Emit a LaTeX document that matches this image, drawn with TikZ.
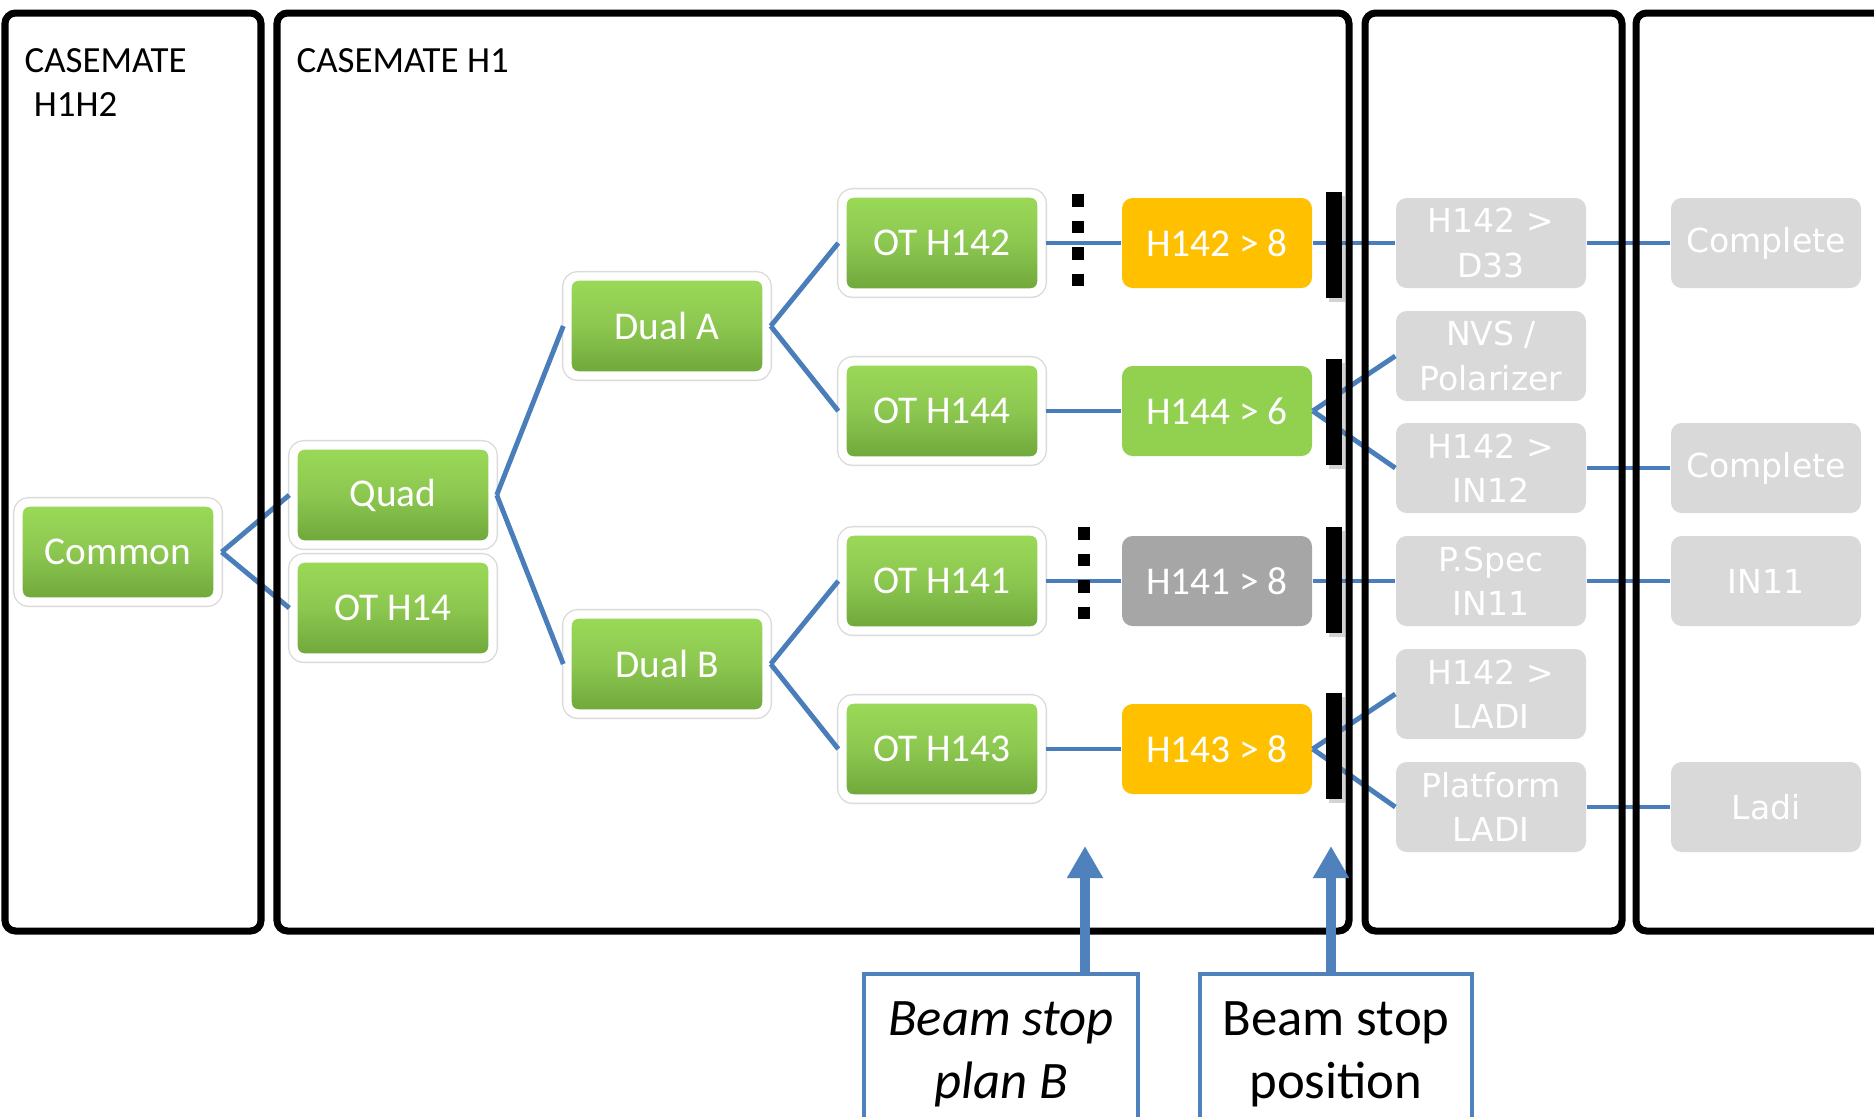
\documentclass[tikz,border=0pt]{standalone}
\usepackage{fontspec}
\setmainfont{Carlito}
\newfontfamily\grayfont{DejaVu Sans}
\usetikzlibrary{arrows.meta, shadows}

\definecolor{linkblue}{RGB}{74,126,187}
\definecolor{beamblue}{RGB}{79,129,189}
\definecolor{greentop}{RGB}{155,218,88}
\definecolor{greenmid}{RGB}{140,199,80}
\definecolor{greenbot}{RGB}{110,166,58}
\definecolor{stoporange}{RGB}{255,192,0}
\definecolor{stopgreen}{RGB}{146,208,80}
\definecolor{stopgray}{RGB}{166,166,166}
\definecolor{pendgray}{RGB}{217,217,217}

\begin{document}
\begin{tikzpicture}[
    every node/.style={font=\fontsize{11.2}{13}\selectfont},
    panel/.style={draw=black, line width=2pt, rounded corners=3pt},
    title/.style={anchor=north west, inner sep=0pt, align=left,
                  font=\fontsize{10.5}{12.5}\selectfont},
    greenbox/.style={rectangle, rounded corners=3pt, draw=white, line width=2.4pt,
                     top color=greentop, bottom color=greenbot, middle color=greenmid,
                     minimum width=1.99cm, minimum height=0.99cm, text=white,
                     drop shadow={shadow xshift=0pt, shadow yshift=-1pt,
                                  shadow scale=1.03, opacity=0.2},
                     preaction={draw=black!14, line width=3.2pt}},
    flatbox/.style={rectangle, rounded corners=3pt, minimum width=1.90cm,
                    minimum height=0.90cm, text=white},
    flat orange/.style={flatbox, fill=stoporange},
    flat green/.style={flatbox, fill=stopgreen},
    flat gray/.style={flatbox, fill=stopgray},
    pendbox/.style={rectangle, rounded corners=3pt, fill=pendgray,
                    minimum width=1.90cm, minimum height=0.90cm, inner sep=1pt,
                    text=white, align=center,
                    font=\grayfont\fontsize{9.4}{12.6}\selectfont},
    link/.style={draw=linkblue, line width=1.4pt},
    stopbar/.style={rectangle, fill=black, minimum width=0.155cm,
                    minimum height=1.06cm, inner sep=0pt,
                    drop shadow={shadow xshift=0.8pt, shadow yshift=-1pt,
                                 opacity=0.35}},
    planbdots/.style={draw=black, line width=0.125cm,
                      dash pattern=on 0.125cm off 0.14cm},
    notebox/.style={rectangle, draw=beamblue, line width=1.25pt, fill=white,
                    anchor=north, align=center, inner ysep=0.27cm,
                    text depth=2cm, font=\fontsize{15}{18}\selectfont},
    notearrow/.style={draw=beamblue, line width=2.7pt,
                      -{Triangle[width=0.34cm, length=0.32cm]}},
]
\useasboundingbox (0,0) rectangle (18.74,-11.16);
\clip (0,0) rectangle (18.74,-11.16);

% ---------- Casemate titles ----------
\node[title] (titleh1h2) at (0.24,-0.48) {CASEMATE\\\hspace*{0.25em}H1H2};
\node[title] (titleh1) at (2.96,-0.48) {CASEMATE H1};

% ---------- Optical tree ----------
\node[greenbox] (common) at (1.18,-5.52) {Common};
\node[greenbox] (quad)   at (3.93,-4.95) {Quad};
\node[greenbox] (oth14)  at (3.93,-6.08) {OT H14};
\node[greenbox] (duala)  at (6.67,-3.26) {Dual A};
\node[greenbox] (dualb)  at (6.67,-6.64) {Dual B};
\node[greenbox] (ot142)  at (9.42,-2.43) {OT H142};
\node[greenbox] (ot144)  at (9.42,-4.11) {OT H144};
\node[greenbox] (ot141)  at (9.42,-5.81) {OT H141};
\node[greenbox] (ot143)  at (9.42,-7.49) {OT H143};

% ---------- Beam lines ----------
\node[flat orange] (to142) at (12.17,-2.43) {H142 > 8};
\node[flat green]  (to144) at (12.17,-4.11) {H144 > 6};
\node[flat gray]   (to141) at (12.17,-5.81) {H141 > 8};
\node[flat orange] (to143) at (12.17,-7.49) {H143 > 8};

% ---------- Downstream (not yet done) ----------
\node[pendbox] (d33)      at (14.91,-2.43) {H142 >\\D33};
\node[pendbox] (nvs)      at (14.91,-3.56) {NVS /\\Polarizer};
\node[pendbox] (in12)     at (14.91,-4.68) {H142 >\\IN12};
\node[pendbox] (pspec)    at (14.91,-5.81) {P.Spec\\IN11};
\node[pendbox] (ladi)     at (14.91,-6.94) {H142 >\\LADI};
\node[pendbox] (platform) at (14.91,-8.07) {Platform\\LADI};

\node[pendbox] (done1)   at (17.66,-2.43) {Complete};
\node[pendbox] (done2)   at (17.66,-4.68) {Complete};
\node[pendbox] (in11)    at (17.66,-5.81) {IN11};
\node[pendbox] (ladiend) at (17.66,-8.07) {Ladi};

% ---------- Links ----------
\draw[link] (common.east) -- (quad.west);
\draw[link] (common.east) -- (oth14.west);
\draw[link] (quad.east) -- (duala.west);
\draw[link] (quad.east) -- (dualb.west);
\draw[link] (duala.east) -- (ot142.west);
\draw[link] (duala.east) -- (ot144.west);
\draw[link] (dualb.east) -- (ot141.west);
\draw[link] (dualb.east) -- (ot143.west);

\draw[link] (ot142.east) -- (to142.west);
\draw[link] (ot144.east) -- (to144.west);
\draw[link] (ot141.east) -- (to141.west);
\draw[link] (ot143.east) -- (to143.west);

\draw[link] (to142.east) -- (d33.west);
\draw[link] (to144.east) -- (nvs.west);
\draw[link] (to144.east) -- (in12.west);
\draw[link] (to141.east) -- (pspec.west);
\draw[link] (to143.east) -- (ladi.west);
\draw[link] (to143.east) -- (platform.west);

\draw[link] (d33.east) -- (done1.west);
\draw[link] (in12.east) -- (done2.west);
\draw[link] (pspec.east) -- (in11.west);
\draw[link] (platform.east) -- (ladiend.west);

% ---------- Casemate walls ----------
\draw[panel] (0.05,-0.13) rectangle (2.61,-9.31);
\draw[panel] (2.77,-0.13) rectangle (13.49,-9.31);
\draw[panel] (13.65,-0.13) rectangle (16.22,-9.31);
\draw[panel] (16.36,-0.13) rectangle (19.20,-9.31);

% ---------- Beam stops ----------
\node[stopbar] (bar142) at (13.34,-2.45) {};
\node[stopbar] (bar144) at (13.34,-4.12) {};
\node[stopbar] (bar141) at (13.34,-5.80) {};
\node[stopbar] (bar143) at (13.34,-7.46) {};

\draw[planbdots] (10.78,-1.94) -- ++(0,-0.92);
\draw[planbdots] (10.84,-5.27) -- ++(0,-0.92);

% ---------- Notes ----------
\node[notebox, minimum width=2.74cm,
      font=\fontsize{15}{18}\selectfont\itshape] (planb) at (10.01,-9.72)
    {Beam stop\\plan B};
\node[notebox, minimum width=2.72cm] (position) at (13.36,-9.72)
    {Beam stop\\position};

\coordinate (planbtip) at (10.85,-8.46);
\coordinate (positiontip) at (13.31,-8.46);
\draw[notearrow] (planb.north -| planbtip) -- (planbtip);
\draw[notearrow] (position.north -| positiontip) -- (positiontip);

\end{tikzpicture}
\end{document}
